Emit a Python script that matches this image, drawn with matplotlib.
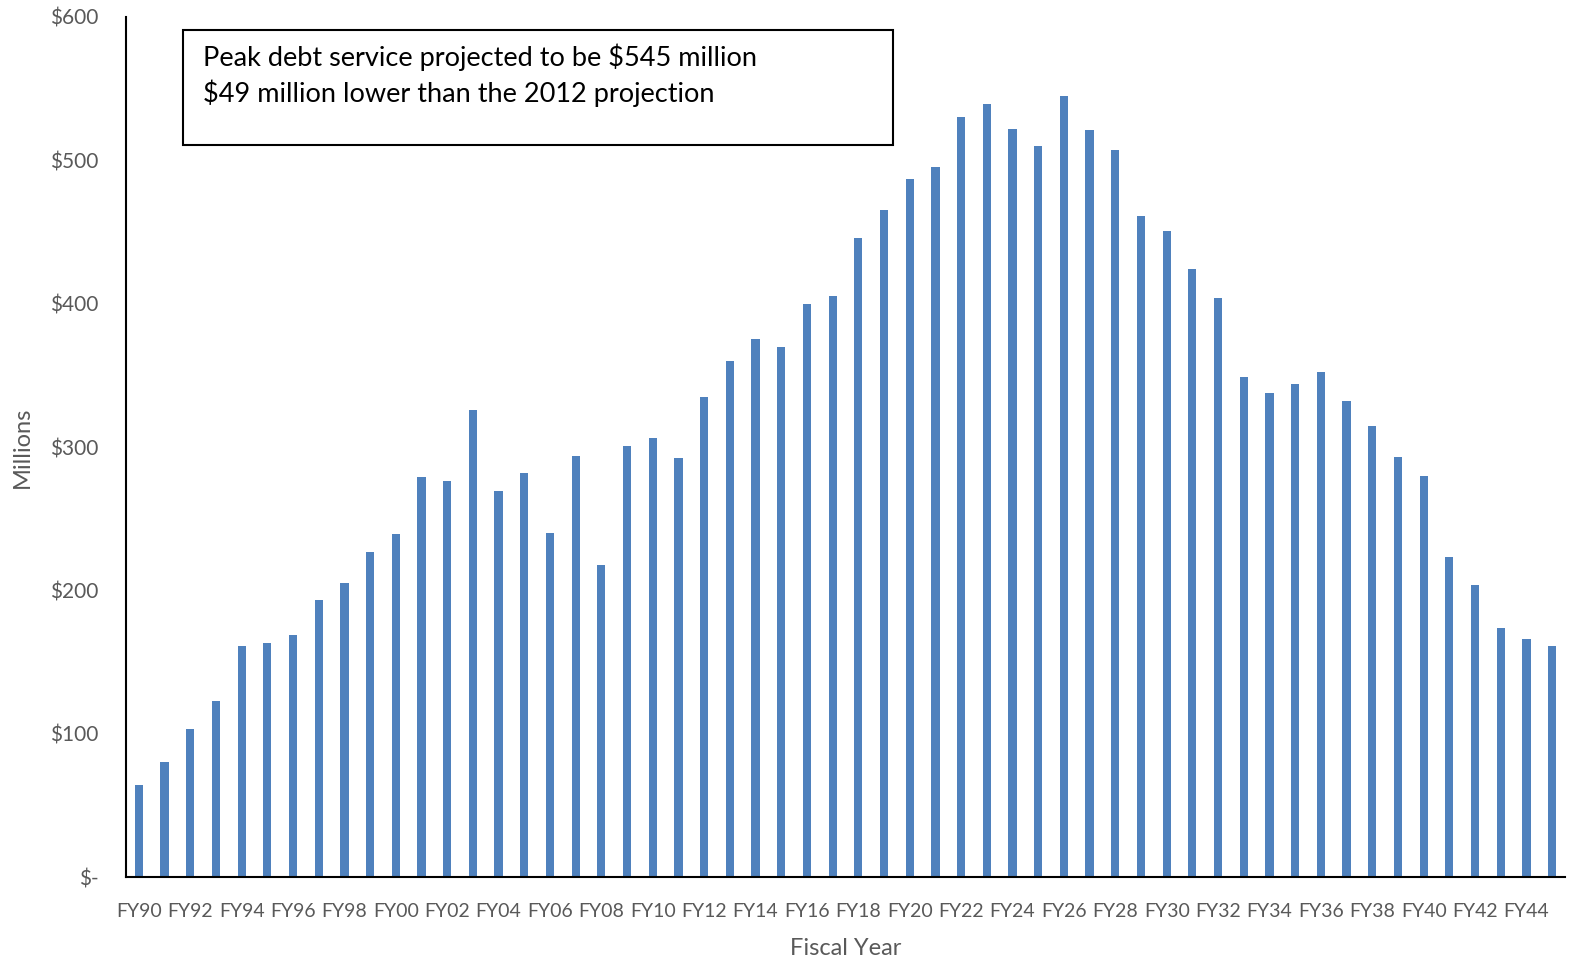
import matplotlib.pyplot as plt
from matplotlib.patches import Rectangle

plt.rcParams['font.family'] = ['Lato', 'DejaVu Sans']

years = ["FY%02d" % (y % 100) for y in range(1990, 2046)]
debt_service = [
    64, 80, 103, 123, 161, 163, 169, 193, 205, 227,
    239, 279, 276, 326, 269, 282, 240, 294, 218, 301,
    306, 292, 335, 360, 375, 370, 400, 405, 446, 465,
    487, 495, 530, 539, 522, 510, 545, 521, 507, 461,
    451, 424, 404, 349, 338, 344, 352, 332, 315, 293,
    280, 223, 204, 174, 166, 161,
]
yticks = [0, 100, 200, 300, 400, 500, 600]
ytick_labels = ["$-", "$100", "$200", "$300", "$400", "$500", "$600"]
note_lines = [
    "Peak debt service projected to be $545 million",
    "$49 million lower than the 2012 projection",
]

gray = "#595959"
fig = plt.figure(figsize=(15.73, 9.64), dpi=100)
ax = fig.add_axes([0.0801, 0.0902, 0.9148, 0.8922])

x = range(len(years))
ax.bar(x, debt_service, width=0.32, color="#4F81BD")

ax.set_xlim(-0.5, len(years) - 0.5)
ax.set_ylim(0, 600)
ax.set_xticks(list(x)[::2])
ax.set_xticklabels(years[::2])
ax.set_yticks(yticks)
ax.set_yticklabels(ytick_labels)
ax.tick_params(length=0, labelcolor=gray)
ax.tick_params(axis="x", pad=19, labelsize=14)
ax.tick_params(axis="y", pad=20, labelsize=15)

for s in ["top", "right"]:
    ax.spines[s].set_visible(False)
for s in ["left", "bottom"]:
    ax.spines[s].set_linewidth(1.5)
    ax.spines[s].set_color("black")

ax.set_xlabel("Fiscal Year", fontsize=17, color=gray, labelpad=13)
ax.set_ylabel("Millions", fontsize=17, color=gray)
ax.yaxis.set_label_coords(-0.065, 0.5)

# annotation box
fig.patches.append(Rectangle((183 / 1573, 1 - 145 / 964), 710 / 1573, 115 / 964,
                             transform=fig.transFigure, fill=False,
                             edgecolor="black", linewidth=1.5))
fig.text(203 / 1573, 1 - 57 / 964, note_lines[0], fontsize=19.5, va="center", ha="left")
fig.text(203 / 1573, 1 - 93 / 964, note_lines[1], fontsize=19.5, va="center", ha="left")

fig.savefig("out.png", dpi=100)
